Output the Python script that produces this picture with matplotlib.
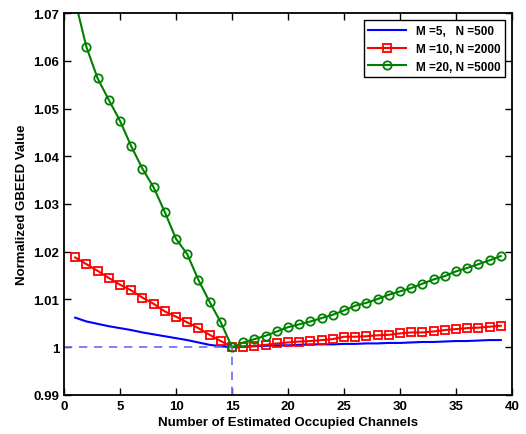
import numpy as np
import matplotlib
matplotlib.use("Agg")
import matplotlib.pyplot as plt

plt.rcParams["font.family"] = ["Liberation Sans", "DejaVu Sans"]
plt.rcParams["font.weight"] = "bold"
plt.rcParams["axes.labelweight"] = "bold"
plt.rcParams["font.size"] = 9

channels = np.arange(1, 40)

# M = 5, N = 500
gbeed_m5 = [1.0062, 1.0054, 1.0049, 1.0044, 1.0040, 1.0036, 1.0031, 1.0027, 1.0023, 1.0019,
            1.0015, 1.0010, 1.0005, 1.0002, 1.0000, 1.0001, 1.0002, 1.0003, 1.0004, 1.0004,
            1.0005, 1.0006, 1.0006, 1.0006, 1.0007, 1.0007, 1.0008, 1.0008, 1.0009, 1.0009,
            1.0010, 1.0011, 1.0011, 1.0012, 1.0013, 1.0013, 1.0014, 1.0015, 1.0015]

# M = 10, N = 2000
gbeed_m10 = [1.0188, 1.0174, 1.0160, 1.0145, 1.0131, 1.0119, 1.0104, 1.0091, 1.0075, 1.0064,
             1.0052, 1.0040, 1.0026, 1.0013, 1.0000, 1.0001, 1.0003, 1.0005, 1.0008, 1.0010,
             1.0012, 1.0013, 1.0015, 1.0017, 1.0022, 1.0022, 1.0023, 1.0025, 1.0026, 1.0029,
             1.0031, 1.0031, 1.0033, 1.0036, 1.0038, 1.0040, 1.0041, 1.0043, 1.0045]

# M = 20, N = 5000
gbeed_m20 = [1.0725, 1.0629, 1.0563, 1.0518, 1.0474, 1.0421, 1.0374, 1.0335, 1.0283, 1.0227,
             1.0195, 1.0141, 1.0095, 1.0052, 1.0000, 1.0010, 1.0017, 1.0024, 1.0033, 1.0042,
             1.0048, 1.0054, 1.0061, 1.0068, 1.0077, 1.0087, 1.0093, 1.0101, 1.0110, 1.0117,
             1.0124, 1.0133, 1.0142, 1.0149, 1.0159, 1.0166, 1.0174, 1.0182, 1.0191]

labels = ["M =5,   N =500", "M =10, N =2000", "M =20, N =5000"]
best_k = 15

fig = plt.figure(figsize=(5.26, 4.35), dpi=100)
ax = fig.add_axes([0.1217, 0.0897, 0.8517, 0.8781])

ax.plot(channels, gbeed_m5, c='blue', lw=1.5, label=labels[0])
ax.plot(channels, gbeed_m10, c='red', lw=1.5, marker='s', ms=6, mfc='none',
        mew=1.3, label=labels[1])
ax.plot(channels, gbeed_m20, c='green', lw=1.5, marker='o', ms=6, mfc='none',
        mew=1.3, label=labels[2])

ax.plot([0, best_k], [1, 1], ls=(0, (5, 4)), c='#6a6aff', lw=1.2)
ax.plot([best_k, best_k], [0.99, 1], ls=(0, (5, 4)), c='#6a6aff', lw=1.2)

ax.set_xlim([0, 40])
ax.set_ylim([0.99, 1.07])
ax.set_xticks(np.arange(0, 41, 5))
ax.set_yticks(np.arange(0.99, 1.0701, 0.01))
ax.set_yticklabels(["0.99", "1", "1.01", "1.02", "1.03", "1.04", "1.05", "1.06", "1.07"])
ax.tick_params(direction='in', top=True, right=True, length=5, width=1, labelsize=9.5)
for s in ax.spines.values():
    s.set_linewidth(1.3)

ax.set_xlabel('Number of Estimated Occupied Channels', fontsize=9.5, labelpad=3)
ax.set_ylabel('Normalized GBEED Value', fontsize=9.5, labelpad=4)

leg = ax.legend(loc='upper right', fontsize=8.5, fancybox=False, edgecolor='black',
                framealpha=1, handlelength=3.2, borderaxespad=0.6)
leg.get_frame().set_linewidth(1.0)

plt.savefig("out.png", dpi=100)
plt.close()
